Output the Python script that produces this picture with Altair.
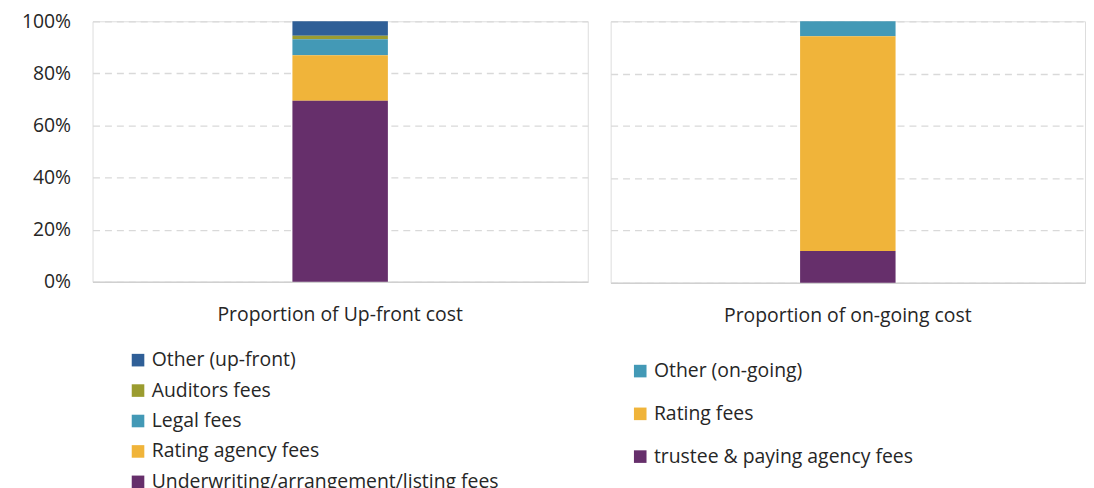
import altair as alt
import pandas as pd

upfront_label = "Proportion of Up-front cost"
upfront_categories = ["Other (up-front)", "Auditors fees", "Legal fees",
                      "Rating agency fees", "Underwriting/arrangement/listing fees"]
upfront_values = [0.056, 0.013, 0.061, 0.175, 0.695]
upfront_colors = ["#2f5f97", "#9b9c2f", "#4399b6", "#f0b43a", "#662f6b"]

ongoing_label = "Proportion of on-going cost"
ongoing_categories = ["Other (on-going)", "Rating fees", "trustee & paying agency fees"]
ongoing_values = [0.057, 0.821, 0.122]
ongoing_colors = ["#4399b6", "#f0b43a", "#662f6b"]

FONT = "Open Sans"
TXT = "#262626"
FS = 19.5

def panel(label, cats, vals, colors, show_labels, row_pad, lx, ly, w, h):
    n = len(cats)
    df = pd.DataFrame({
        "cost": [label] * n,
        "category": cats,
        "value": vals,
        "stack_order": list(range(n, 0, -1)),
    })
    yaxis = alt.Axis(format="%", values=[0, 0.2, 0.4, 0.6, 0.8, 1.0],
                     labels=show_labels, ticks=False, domain=False,
                     grid=True, gridColor="#d9d9d9", gridDash=[7, 5],
                     gridWidth=1.3, labelPadding=22, labelFontSize=FS,
                     labelColor=TXT, labelFont=FONT, title=None)
    return alt.Chart(df).mark_bar(size=96).encode(
        x=alt.X("cost:N", title=None,
                axis=alt.Axis(labelAngle=0, ticks=False, domainColor="#d0d0d0",
                              domainWidth=1.5, labelFontSize=FS, labelFont=FONT,
                              labelColor=TXT, labelPadding=24, labelLimit=600)),
        y=alt.Y("value:Q", stack="zero", scale=alt.Scale(domain=[0, 1]), axis=yaxis),
        color=alt.Color("category:N",
                        scale=alt.Scale(domain=cats, range=colors),
                        legend=alt.Legend(title=None, orient="none", legendX=lx, legendY=ly,
                                          direction="vertical", symbolType="square",
                                          symbolSize=160, symbolStrokeWidth=0,
                                          labelFontSize=FS, labelFont=FONT, labelColor=TXT,
                                          labelOffset=4, rowPadding=row_pad, labelLimit=600)),
        order=alt.Order("stack_order:Q"),
    ).properties(width=w, height=h)

left = panel(upfront_label, upfront_categories, upfront_values, upfront_colors,
             True, 9.6, 36, 331, 498, 262)
right = panel(ongoing_label, ongoing_categories, ongoing_values, ongoing_colors,
              False, 22, 20, 342, 477, 263)

chart = alt.hconcat(left, right, spacing=21).resolve_scale(color="independent").configure_view(
    stroke="#ececec", strokeWidth=2
).configure(padding={"left": 12, "top": 1, "right": 0, "bottom": 0}, background="white")

chart.save("out.html", embed_options={"renderer": "svg", "actions": False})
